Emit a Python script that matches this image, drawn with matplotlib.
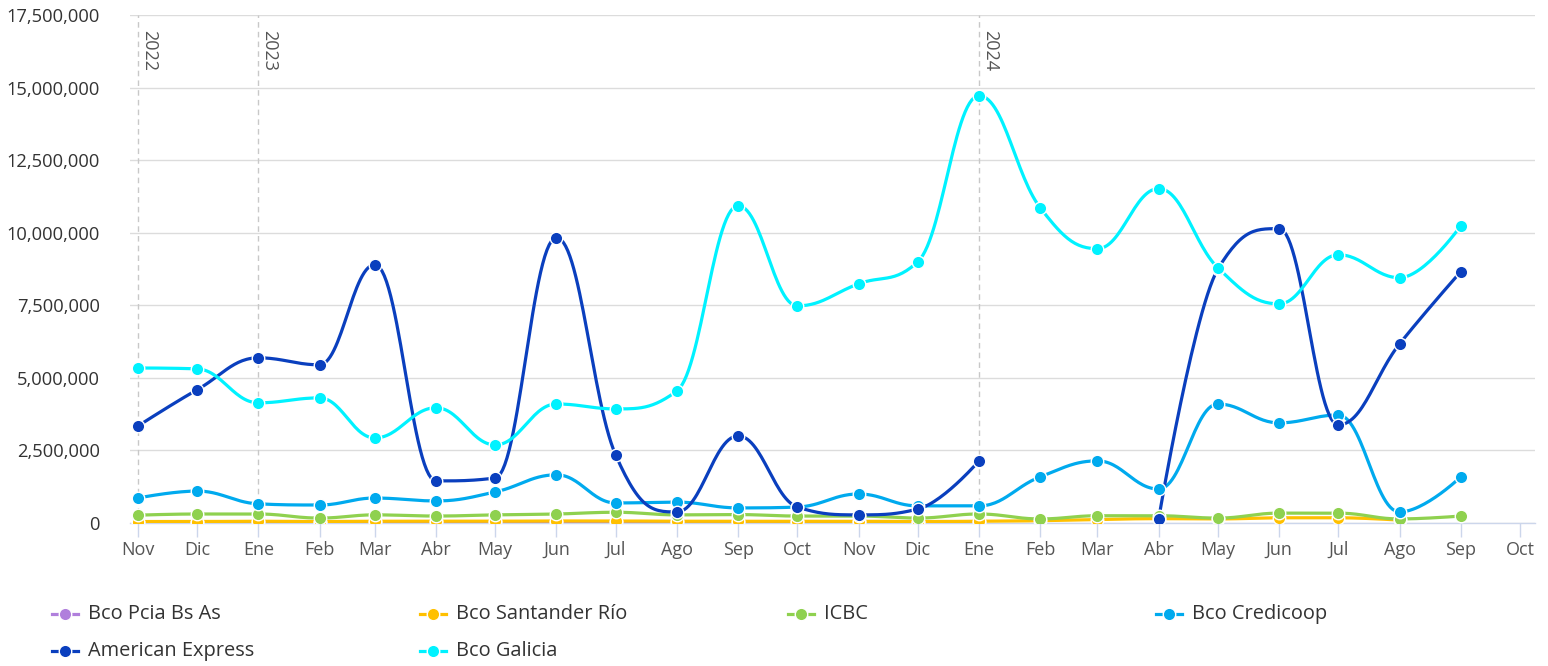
import numpy as np
import pandas as pd
import matplotlib
matplotlib.use("Agg")
import matplotlib.pyplot as plt
from matplotlib.lines import Line2D
from matplotlib.ticker import FuncFormatter

plt.rcParams['font.family'] = ['Open Sans', 'DejaVu Sans']

# months Nov 2022 .. Oct 2024 (last one is only a tick)
months = pd.date_range("2022-11-01", "2024-10-01", freq="MS")
month_labels = ["Nov", "Dic", "Ene", "Feb", "Mar", "Abr", "May", "Jun", "Jul", "Ago", "Sep", "Oct",
                "Nov", "Dic", "Ene", "Feb", "Mar", "Abr", "May", "Jun", "Jul", "Ago", "Sep", "Oct"]
year_lines = ["2022-11-01", "2023-01-01", "2024-01-01"]
year_labels = ["2022", "2023", "2024"]

series_names = ["Bco Pcia Bs As", "Bco Santander Río", "ICBC", "Bco Credicoop",
                "American Express", "Bco Galicia"]
series_colors = ["#b07fdc", "#ffc000", "#8fd14f", "#00aaee", "#0a3fbe", "#00f2ff"]

N = None
pcia = [0.02, 0.02, 0.02, 0.02, 0.02, 0.02, 0.02, 0.02, 0.02, 0.02, 0.02, 0.02,
        0.02, 0.02, 0.02, N, N, N, N, N, N, N, N]
santander = [0.05, 0.05, 0.06, 0.05, 0.06, 0.06, 0.06, 0.07, 0.07, 0.06, 0.06, 0.06,
             0.06, 0.05, 0.06, 0.08, 0.12, 0.15, 0.14, 0.18, 0.18, 0.10, N]
icbc = [0.27, 0.31, 0.31, 0.17, 0.28, 0.24, 0.28, 0.31, 0.37, 0.28, 0.29, 0.24,
        0.24, 0.17, 0.31, 0.14, 0.25, 0.25, 0.17, 0.34, 0.34, 0.14, 0.24]
credicoop = [0.86, 1.10, 0.66, 0.62, 0.86, 0.76, 1.07, 1.66, 0.69, 0.72, 0.52, 0.55,
             1.00, 0.59, 0.59, 1.59, 2.14, 1.17, 4.10, 3.45, 3.72, 0.38, 1.59]
amex = [3.34, 4.59, 5.69, 5.45, 8.90, 1.45, 1.55, 9.83, 2.34, 0.38, 3.00, 0.55,
        0.28, 0.48, 2.14, N, N, 0.14, 8.75, 10.14, 3.38, 6.17, 8.66]
galicia = [5.34, 5.31, 4.14, 4.31, 2.93, 3.97, 2.69, 4.10, 3.93, 4.55, 10.93, 7.48,
           8.24, 9.00, 14.72, 10.86, 9.45, 11.52, 8.79, 7.55, 9.24, 8.45, 10.24]
series_values = [pcia, santander, icbc, credicoop, amex, galicia]


def spline_path(xs, ys, smoothing=1.5):
    # highcharts-like spline through the points
    n = len(xs)
    if n < 2:
        return np.array(xs), np.array(ys)
    denom = smoothing + 1
    lc = [None] * n
    rc = [None] * n
    for i in range(n):
        px, py = xs[i], ys[i]
        if i == 0 or i == n - 1:
            lc[i] = (px, py)
            rc[i] = (px, py)
            continue
        lx, ly = xs[i - 1], ys[i - 1]
        nx, ny = xs[i + 1], ys[i + 1]
        lcx = (smoothing * px + lx) / denom
        lcy = (smoothing * py + ly) / denom
        rcx = (smoothing * px + nx) / denom
        rcy = (smoothing * py + ny) / denom
        corr = ((rcy - lcy) * (rcx - px)) / (rcx - lcx) + py - rcy
        lcy += corr
        rcy += corr
        if lcy > ly and lcy > py:
            lcy = max(ly, py)
            rcy = 2 * py - lcy
        elif lcy < ly and lcy < py:
            lcy = min(ly, py)
            rcy = 2 * py - lcy
        if rcy > ny and rcy > py:
            rcy = max(ny, py)
            lcy = 2 * py - rcy
        elif rcy < ny and rcy < py:
            rcy = min(ny, py)
            lcy = 2 * py - rcy
        lc[i] = (lcx, lcy)
        rc[i] = (rcx, rcy)
    t = np.linspace(0, 1, 30)
    outx, outy = [], []
    for i in range(1, n):
        p0 = (xs[i - 1], ys[i - 1])
        p1 = rc[i - 1]
        p2 = lc[i]
        p3 = (xs[i], ys[i])
        bx = (1 - t) ** 3 * p0[0] + 3 * (1 - t) ** 2 * t * p1[0] + 3 * (1 - t) * t ** 2 * p2[0] + t ** 3 * p3[0]
        by = (1 - t) ** 3 * p0[1] + 3 * (1 - t) ** 2 * t * p1[1] + 3 * (1 - t) * t ** 2 * p2[1] + t ** 3 * p3[1]
        outx.extend(bx)
        outy.extend(by)
    return np.array(outx), np.array(outy)


start = months[0]
xdays = np.array([(m - start).days for m in months], dtype=float)

fig = plt.figure(figsize=(15.48, 6.66), dpi=100)
ax = fig.add_axes([130 / 1548, 143 / 666, 1405 / 1548, 508 / 666])

for name, color, vals in zip(series_names, series_colors, series_values):
    # split into segments at missing values
    seg_x, seg_y = [], []
    segments = []
    for x, v in zip(xdays, vals):
        if v is None:
            if seg_x:
                segments.append((seg_x, seg_y))
            seg_x, seg_y = [], []
        else:
            seg_x.append(x)
            seg_y.append(v * 1e6)
    if seg_x:
        segments.append((seg_x, seg_y))
    for sx, sy in segments:
        cx, cy = spline_path(sx, sy)
        ax.plot(cx, cy, color=color, lw=2.3, solid_capstyle='round', zorder=3)
        ax.plot(sx, sy, 'o', color=color, ms=9, mec='white', mew=1, zorder=4)

# year plot lines
for d, lab in zip(year_lines, year_labels):
    xd = (pd.Timestamp(d) - start).days
    ax.axvline(xd, color='#c8c8c8', lw=1, ls=(0, (4, 3)), zorder=1)
    ax.text(xd + 1, 17.0e6, lab, rotation=270, ha='left', va='top', fontsize=13, color='#555555')

ax.set_xlim(-4, 707.6)
ax.set_ylim(0, 17.5e6)
ax.set_yticks(np.arange(0, 17.5e6 + 1, 2.5e6))
ax.yaxis.set_major_formatter(FuncFormatter(lambda v, p: f"{int(v):,}"))
ax.grid(axis='y', color='#dcdcdc', lw=1, zorder=0)
ax.set_axisbelow(True)
ax.set_xticks(xdays)
ax.set_xticklabels(month_labels)
ax.tick_params(axis='x', length=10, width=1, color='#ccd6eb', labelsize=13, labelcolor='#555555', pad=3)
ax.tick_params(axis='y', length=0, labelsize=13.2, labelcolor='#333333', pad=21.6)
for s in ['top', 'right', 'left']:
    ax.spines[s].set_visible(False)
ax.spines['bottom'].set_color('#ccd6eb')
ax.spines['bottom'].set_linewidth(1)
ax.spines['bottom'].set_zorder(2)

# legend drawn by hand, 4 columns
for i, (name, color) in enumerate(zip(series_names, series_colors)):
    col = i % 4
    row = i // 4
    x0 = (52 + col * 368) / 1548
    y0 = 1 - (614 + row * 37) / 666
    fig.add_artist(Line2D([x0, x0 + 26 / 1548], [y0, y0], color=color, lw=2.3,
                          transform=fig.transFigure))
    fig.add_artist(Line2D([x0 + 13 / 1548], [y0], marker='o', color=color, ms=9,
                          mec='white', mew=1, transform=fig.transFigure))
    fig.text(x0 + 36 / 1548, y0, name, fontsize=14.4, color='#333333', va='center', ha='left')

fig.savefig("out.png", dpi=100)
